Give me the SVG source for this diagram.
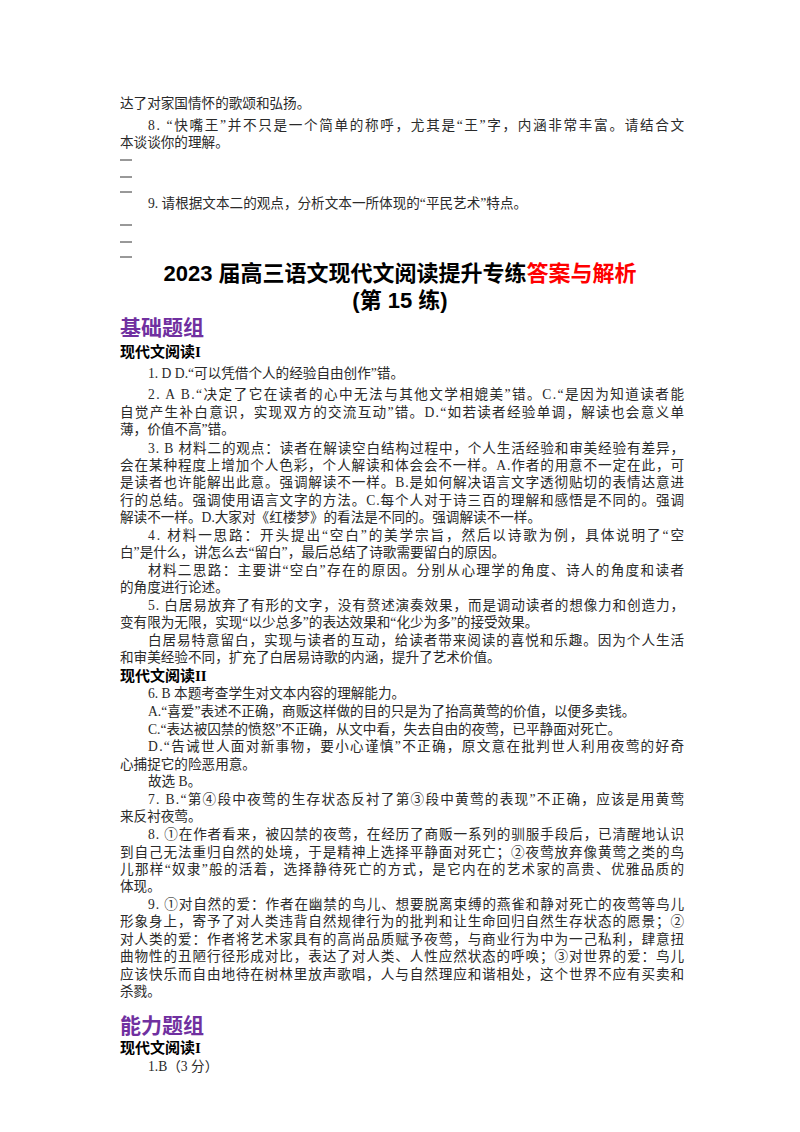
<svg xmlns="http://www.w3.org/2000/svg" width="800" height="1132" viewBox="0 0 800 1132">
<style>
.b{font-family:"Liberation Serif","Noto Sans CJK SC",serif;font-size:13.6px;fill:#2a2a2a}
.h{font-family:"Liberation Serif","Noto Sans CJK SC",serif;font-size:15px;font-weight:bold;fill:#000}
.t{font-family:"Liberation Sans","Noto Sans CJK SC",sans-serif;font-size:22px;font-weight:bold;fill:#000}
.p{font-family:"Liberation Sans","Noto Sans CJK SC",sans-serif;font-size:21px;font-weight:bold;fill:#7030a0}
.d{stroke:#333;stroke-width:1}
</style>
<rect width="800" height="1132" fill="#fff"/>
<g id="top">
<text class="b" x="120" y="108">达了对家国情怀的歌颂和弘扬。</text>
<text class="b" x="148" y="130" textLength="536" lengthAdjust="spacing">8. “快嘴王”并不只是一个简单的称呼，尤其是“王”字，内涵非常丰富。请结合文</text>
<text class="b" x="120" y="147">本谈谈你的理解。</text>
<line class="d" x1="120" y1="160" x2="132" y2="160"/>
<line class="d" x1="120" y1="177" x2="132" y2="177"/>
<line class="d" x1="120" y1="192" x2="132" y2="192"/>
<text class="b" x="148" y="208">9. 请根据文本二的观点，分析文本一所体现的“平民艺术”特点。</text>
<line class="d" x1="120" y1="225" x2="132" y2="225"/>
<line class="d" x1="120" y1="242" x2="132" y2="242"/>
<line class="d" x1="120" y1="257" x2="132" y2="257"/>
</g>
<g id="title">
<text class="t" x="400" y="281" text-anchor="middle">2023 届高三语文现代文阅读提升专练<tspan fill="#ff0000">答案与解析</tspan></text>
<text class="t" x="400" y="308" text-anchor="middle">(第 15 练)</text>
</g>
<g id="basic">
<text class="p" x="120" y="335">基础题组</text>
<text class="h" x="120" y="357">现代文阅读I</text>
<text class="b" x="148" y="378">1. D D.“可以凭借个人的经验自由创作”错。</text>
<text class="b" x="148" y="399" textLength="536" lengthAdjust="spacing">2. A B.“决定了它在读者的心中无法与其他文学相媲美”错。C.“是因为知道读者能</text>
<text class="b" x="120" y="417" textLength="564" lengthAdjust="spacing">自觉产生补白意识，实现双方的交流互动”错。D.“如若读者经验单调，解读也会意义单</text>
<text class="b" x="120" y="434">薄，价值不高”错。</text>
<text class="b" x="148" y="453" textLength="536" lengthAdjust="spacing">3. B 材料二的观点：读者在解读空白结构过程中，个人生活经验和审美经验有差异，</text>
<text class="b" x="120" y="470" textLength="564" lengthAdjust="spacing">会在某种程度上增加个人色彩，个人解读和体会会不一样。A.作者的用意不一定在此，可</text>
<text class="b" x="120" y="487" textLength="564" lengthAdjust="spacing">是读者也许能解出此意。强调解读不一样。B.是如何解决语言文字透彻贴切的表情达意进</text>
<text class="b" x="120" y="505" textLength="564" lengthAdjust="spacing">行的总结。强调使用语言文字的方法。C.每个人对于诗三百的理解和感悟是不同的。强调</text>
<text class="b" x="120" y="522">解读不一样。D.大家对《红楼梦》的看法是不同的。强调解读不一样。</text>
<text class="b" x="148" y="540" textLength="536" lengthAdjust="spacing">4. 材料一思路：开头提出“空白”的美学宗旨，然后以诗歌为例，具体说明了“空</text>
<text class="b" x="120" y="557">白”是什么，讲怎么去“留白”，最后总结了诗歌需要留白的原因。</text>
<text class="b" x="148" y="575" textLength="536" lengthAdjust="spacing">材料二思路：主要讲“空白”存在的原因。分别从心理学的角度、诗人的角度和读者</text>
<text class="b" x="120" y="592">的角度进行论述。</text>
<text class="b" x="148" y="610" textLength="536" lengthAdjust="spacing">5. 白居易放弃了有形的文字，没有赘述演奏效果，而是调动读者的想像力和创造力，</text>
<text class="b" x="120" y="627">变有限为无限，实现“以少总多”的表达效果和“化少为多”的接受效果。</text>
<text class="b" x="148" y="645" textLength="536" lengthAdjust="spacing">白居易特意留白，实现与读者的互动，给读者带来阅读的喜悦和乐趣。因为个人生活</text>
<text class="b" x="120" y="662">和审美经验不同，扩充了白居易诗歌的内涵，提升了艺术价值。</text>
<text class="h" x="120" y="681">现代文阅读II</text>
<text class="b" x="148" y="698">6. B 本题考查学生对文本内容的理解能力。</text>
<text class="b" x="148" y="716">A.“喜爱”表述不正确，商贩这样做的目的只是为了抬高黄莺的价值，以便多卖钱。</text>
<text class="b" x="148" y="734">C.“表达被囚禁的愤怒”不正确，从文中看，失去自由的夜莺，已平静面对死亡。</text>
<text class="b" x="148" y="751" textLength="536" lengthAdjust="spacing">D.“告诫世人面对新事物，要小心谨慎”不正确，原文意在批判世人利用夜莺的好奇</text>
<text class="b" x="120" y="769">心捕捉它的险恶用意。</text>
<text class="b" x="148" y="786">故选 B。</text>
<text class="b" x="148" y="804" textLength="536" lengthAdjust="spacing">7. B.“第④段中夜莺的生存状态反衬了第③段中黄莺的表现”不正确，应该是用黄莺</text>
<text class="b" x="120" y="821">来反衬夜莺。</text>
<text class="b" x="148" y="839" textLength="536" lengthAdjust="spacing">8. ①在作者看来，被囚禁的夜莺，在经历了商贩一系列的驯服手段后，已清醒地认识</text>
<text class="b" x="120" y="857" textLength="564" lengthAdjust="spacing">到自己无法重归自然的处境，于是精神上选择平静面对死亡；②夜莺放弃像黄莺之类的鸟</text>
<text class="b" x="120" y="874" textLength="564" lengthAdjust="spacing">儿那样“奴隶”般的活着，选择静待死亡的方式，是它内在的艺术家的高贵、优雅品质的</text>
<text class="b" x="120" y="891">体现。</text>
<text class="b" x="148" y="909" textLength="536" lengthAdjust="spacing">9. ①对自然的爱：作者在幽禁的鸟儿、想要脱离束缚的燕雀和静对死亡的夜莺等鸟儿</text>
<text class="b" x="120" y="926" textLength="564" lengthAdjust="spacing">形象身上，寄予了对人类违背自然规律行为的批判和让生命回归自然生存状态的愿景；②</text>
<text class="b" x="120" y="944" textLength="564" lengthAdjust="spacing">对人类的爱：作者将艺术家具有的高尚品质赋予夜莺，与商业行为中为一己私利，肆意扭</text>
<text class="b" x="120" y="961" textLength="564" lengthAdjust="spacing">曲物性的丑陋行径形成对比，表达了对人类、人性应然状态的呼唤；③对世界的爱：鸟儿</text>
<text class="b" x="120" y="979" textLength="564" lengthAdjust="spacing">应该快乐而自由地待在树林里放声歌唱，人与自然理应和谐相处，这个世界不应有买卖和</text>
<text class="b" x="120" y="996">杀戮。</text>
</g>
<g id="ability">
<text class="p" x="120" y="1033">能力题组</text>
<text class="h" x="120" y="1053">现代文阅读I</text>
<text class="b" x="148" y="1071">1.B（3 分）</text>
</g>
</svg>
